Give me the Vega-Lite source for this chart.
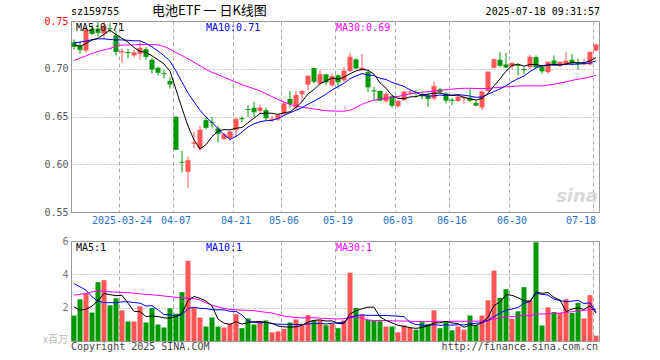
{
"$schema": "https://vega.github.io/schema/vega-lite/v6.json",
"background": "white",
"autosize": {"type": "pad"},
"padding": {"left": 42, "top": 4, "right": 60, "bottom": 8},
"spacing": 29,
"bounds": "flush",
"config": {
  "view": {"stroke": "#999999", "strokeWidth": 1},
  "font": "DejaVu Sans Mono",
  "axis": {"domain": false, "ticks": false, "title": null, "labelFont": "DejaVu Sans Mono", "labelFontSize": 10}
},
"datasets": {
"k": [
{"d":"2025-03-12","o":0.7274,"h":0.7306,"l":0.7201,"c":0.7233,"v":1.53,"m5":0.7250,"m10":0.7275,"m30":0.7087,"vm5":2.05,"vm10":3.45,"vm30":2.75},
{"d":"2025-03-13","o":0.7243,"h":0.7288,"l":0.7156,"c":0.7200,"v":2.50,"m5":0.7235,"m10":0.7278,"m30":0.7111,"vm5":1.85,"vm10":3.25,"vm30":2.80},
{"d":"2025-03-14","o":0.7190,"h":0.7435,"l":0.7170,"c":0.7405,"v":2.85,"m5":0.7265,"m10":0.7290,"m30":0.7135,"vm5":1.90,"vm10":3.05,"vm30":2.85},
{"d":"2025-03-17","o":0.7420,"h":0.7460,"l":0.7350,"c":0.7370,"v":1.71,"m5":0.7300,"m10":0.7305,"m30":0.7160,"vm5":2.10,"vm10":2.65,"vm30":2.95},
{"d":"2025-03-18","o":0.7420,"h":0.7490,"l":0.7340,"c":0.7380,"v":3.53,"m5":0.7319,"m10":0.7313,"m30":0.7181,"vm5":2.42,"vm10":2.40,"vm30":3.00},
{"d":"2025-03-19","o":0.7370,"h":0.7500,"l":0.7310,"c":0.7440,"v":3.65,"m5":0.7360,"m10":0.7313,"m30":0.7198,"vm5":2.85,"vm10":2.30,"vm30":3.00},
{"d":"2025-03-20","o":0.7425,"h":0.7480,"l":0.7380,"c":0.7420,"v":2.14,"m5":0.7404,"m10":0.7306,"m30":0.7212,"vm5":2.78,"vm10":2.30,"vm30":2.95},
{"d":"2025-03-21","o":0.7350,"h":0.7400,"l":0.7140,"c":0.7180,"v":2.56,"m5":0.7358,"m10":0.7302,"m30":0.7240,"vm5":2.72,"vm10":2.30,"vm30":2.93},
{"d":"2025-03-24","o":0.7170,"h":0.7210,"l":0.7060,"c":0.7180,"v":1.84,"m5":0.7320,"m10":0.7302,"m30":0.7247,"vm5":2.74,"vm10":2.35,"vm30":2.92},
{"d":"2025-03-25","o":0.7175,"h":0.7208,"l":0.7108,"c":0.7168,"v":1.17,"m5":0.7278,"m10":0.7298,"m30":0.7250,"vm5":2.27,"vm10":2.35,"vm30":2.90},
{"d":"2025-03-26","o":0.7140,"h":0.7200,"l":0.7120,"c":0.7167,"v":1.17,"m5":0.7223,"m10":0.7292,"m30":0.7250,"vm5":1.78,"vm10":2.31,"vm30":2.87},
{"d":"2025-03-27","o":0.7156,"h":0.7290,"l":0.7094,"c":0.7215,"v":2.08,"m5":0.7182,"m10":0.7293,"m30":0.7253,"vm5":1.76,"vm10":2.27,"vm30":2.83},
{"d":"2025-03-28","o":0.7205,"h":0.7226,"l":0.7094,"c":0.7128,"v":1.11,"m5":0.7172,"m10":0.7265,"m30":0.7253,"vm5":1.47,"vm10":2.10,"vm30":2.80},
{"d":"2025-03-31","o":0.7094,"h":0.7115,"l":0.6948,"c":0.6997,"v":1.98,"m5":0.7135,"m10":0.7228,"m30":0.7253,"vm5":1.50,"vm10":2.12,"vm30":2.77},
{"d":"2025-04-01","o":0.7010,"h":0.7024,"l":0.6931,"c":0.6962,"v":0.99,"m5":0.7094,"m10":0.7186,"m30":0.7250,"vm5":1.47,"vm10":1.87,"vm30":2.74},
{"d":"2025-04-02","o":0.6953,"h":0.6990,"l":0.6899,"c":0.6948,"v":0.81,"m5":0.7050,"m10":0.7137,"m30":0.7233,"vm5":1.39,"vm10":1.59,"vm30":2.70},
{"d":"2025-04-03","o":0.6872,"h":0.6913,"l":0.6792,"c":0.6840,"v":1.96,"m5":0.6975,"m10":0.7079,"m30":0.7205,"vm5":1.37,"vm10":1.57,"vm30":2.66},
{"d":"2025-04-07","o":0.6497,"h":0.6503,"l":0.6150,"c":0.6156,"v":1.64,"m5":0.6781,"m10":0.6976,"m30":0.7170,"vm5":1.48,"vm10":1.48,"vm30":2.62},
{"d":"2025-04-08","o":0.6025,"h":0.6139,"l":0.5913,"c":0.6020,"v":2.93,"m5":0.6585,"m10":0.6860,"m30":0.7139,"vm5":1.67,"vm10":1.58,"vm30":2.58},
{"d":"2025-04-09","o":0.5920,"h":0.6080,"l":0.5750,"c":0.6038,"v":4.81,"m5":0.6400,"m10":0.6747,"m30":0.7104,"vm5":2.43,"vm10":1.95,"vm30":2.57},
{"d":"2025-04-10","o":0.6215,"h":0.6340,"l":0.6167,"c":0.6225,"v":2.00,"m5":0.6256,"m10":0.6653,"m30":0.7069,"vm5":2.67,"vm10":2.03,"vm30":2.55},
{"d":"2025-04-11","o":0.6167,"h":0.6400,"l":0.6142,"c":0.6358,"v":1.41,"m5":0.6159,"m10":0.6567,"m30":0.7031,"vm5":2.56,"vm10":1.96,"vm30":2.45},
{"d":"2025-04-14","o":0.6462,"h":0.6503,"l":0.6365,"c":0.6385,"v":0.87,"m5":0.6205,"m10":0.6493,"m30":0.6993,"vm5":2.40,"vm10":1.94,"vm30":2.30},
{"d":"2025-04-15","o":0.6443,"h":0.6497,"l":0.6375,"c":0.6438,"v":1.41,"m5":0.6289,"m10":0.6437,"m30":0.6962,"vm5":2.10,"vm10":1.88,"vm30":2.15},
{"d":"2025-04-16","o":0.6375,"h":0.6400,"l":0.6226,"c":0.6323,"v":0.87,"m5":0.6346,"m10":0.6373,"m30":0.6938,"vm5":1.31,"vm10":1.87,"vm30":2.05},
{"d":"2025-04-17","o":0.6264,"h":0.6323,"l":0.6254,"c":0.6313,"v":0.81,"m5":0.6363,"m10":0.6310,"m30":0.6910,"vm5":1.07,"vm10":1.87,"vm30":1.95},
{"d":"2025-04-18","o":0.6271,"h":0.6350,"l":0.6247,"c":0.6340,"v":1.03,"m5":0.6360,"m10":0.6260,"m30":0.6885,"vm5":1.00,"vm10":1.78,"vm30":1.90},
{"d":"2025-04-21","o":0.6358,"h":0.6486,"l":0.6295,"c":0.6472,"v":1.61,"m5":0.6377,"m10":0.6291,"m30":0.6858,"vm5":1.15,"vm10":1.78,"vm30":1.87},
{"d":"2025-04-22","o":0.6481,"h":0.6503,"l":0.6444,"c":0.6476,"v":0.77,"m5":0.6385,"m10":0.6337,"m30":0.6833,"vm5":1.02,"vm10":1.56,"vm30":1.85},
{"d":"2025-04-23","o":0.6578,"h":0.6618,"l":0.6497,"c":0.6573,"v":1.35,"m5":0.6435,"m10":0.6390,"m30":0.6812,"vm5":1.11,"vm10":1.21,"vm30":1.84},
{"d":"2025-04-24","o":0.6590,"h":0.6653,"l":0.6497,"c":0.6549,"v":0.99,"m5":0.6482,"m10":0.6423,"m30":0.6789,"vm5":1.15,"vm10":1.11,"vm30":1.82},
{"d":"2025-04-25","o":0.6559,"h":0.6625,"l":0.6535,"c":0.6590,"v":1.19,"m5":0.6532,"m10":0.6446,"m30":0.6769,"vm5":1.18,"vm10":1.09,"vm30":1.77},
{"d":"2025-04-28","o":0.6566,"h":0.6594,"l":0.6462,"c":0.6486,"v":1.23,"m5":0.6535,"m10":0.6456,"m30":0.6738,"vm5":1.11,"vm10":1.13,"vm30":1.72},
{"d":"2025-04-29","o":0.6467,"h":0.6507,"l":0.6444,"c":0.6472,"v":0.52,"m5":0.6534,"m10":0.6459,"m30":0.6708,"vm5":1.06,"vm10":1.04,"vm30":1.68},
{"d":"2025-04-30","o":0.6469,"h":0.6524,"l":0.6455,"c":0.6514,"v":0.58,"m5":0.6522,"m10":0.6479,"m30":0.6679,"vm5":0.90,"vm10":1.01,"vm30":1.58},
{"d":"2025-05-06","o":0.6524,"h":0.6653,"l":0.6514,"c":0.6635,"v":0.73,"m5":0.6539,"m10":0.6511,"m30":0.6652,"vm5":0.85,"vm10":1.00,"vm30":1.49},
{"d":"2025-05-07","o":0.6684,"h":0.6767,"l":0.6594,"c":0.6635,"v":1.11,"m5":0.6548,"m10":0.6540,"m30":0.6626,"vm5":0.83,"vm10":1.01,"vm30":1.45},
{"d":"2025-05-08","o":0.6594,"h":0.6767,"l":0.6566,"c":0.6722,"v":1.29,"m5":0.6596,"m10":0.6565,"m30":0.6611,"vm5":0.85,"vm10":0.98,"vm30":1.41},
{"d":"2025-05-09","o":0.6733,"h":0.6774,"l":0.6653,"c":0.6764,"v":1.00,"m5":0.6654,"m10":0.6594,"m30":0.6597,"vm5":0.94,"vm10":1.00,"vm30":1.38},
{"d":"2025-05-12","o":0.6833,"h":0.6924,"l":0.6774,"c":0.6924,"v":1.55,"m5":0.6736,"m10":0.6629,"m30":0.6589,"vm5":1.14,"vm10":1.02,"vm30":1.39},
{"d":"2025-05-13","o":0.7007,"h":0.7007,"l":0.6844,"c":0.6868,"v":1.25,"m5":0.6783,"m10":0.6661,"m30":0.6579,"vm5":1.24,"vm10":1.05,"vm30":1.40},
{"d":"2025-05-14","o":0.6844,"h":0.6983,"l":0.6826,"c":0.6941,"v":1.25,"m5":0.6844,"m10":0.6696,"m30":0.6570,"vm5":1.27,"vm10":1.05,"vm30":1.37},
{"d":"2025-05-15","o":0.6941,"h":0.6948,"l":0.6826,"c":0.6861,"v":0.95,"m5":0.6872,"m10":0.6734,"m30":0.6561,"vm5":1.20,"vm10":1.02,"vm30":1.36},
{"d":"2025-05-16","o":0.6826,"h":0.6948,"l":0.6809,"c":0.6920,"v":1.03,"m5":0.6903,"m10":0.6778,"m30":0.6558,"vm5":1.21,"vm10":1.07,"vm30":1.33},
{"d":"2025-05-19","o":0.6931,"h":0.6941,"l":0.6792,"c":0.6861,"v":0.77,"m5":0.6890,"m10":0.6813,"m30":0.6555,"vm5":1.05,"vm10":1.09,"vm30":1.32},
{"d":"2025-05-20","o":0.6878,"h":0.7017,"l":0.6861,"c":0.6976,"v":1.23,"m5":0.6912,"m10":0.6847,"m30":0.6556,"vm5":1.05,"vm10":1.14,"vm30":1.34},
{"d":"2025-05-21","o":0.6976,"h":0.7167,"l":0.6965,"c":0.7122,"v":4.10,"m5":0.6948,"m10":0.6896,"m30":0.6565,"vm5":1.62,"vm10":1.44,"vm30":1.41},
{"d":"2025-05-22","o":0.7098,"h":0.7111,"l":0.7000,"c":0.7007,"v":1.98,"m5":0.6977,"m10":0.6924,"m30":0.6594,"vm5":1.82,"vm10":1.51,"vm30":1.42},
{"d":"2025-05-23","o":0.6983,"h":0.7156,"l":0.6983,"c":0.7007,"v":1.59,"m5":0.6995,"m10":0.6949,"m30":0.6627,"vm5":1.93,"vm10":1.57,"vm30":1.38},
{"d":"2025-05-26","o":0.6965,"h":0.6976,"l":0.6757,"c":0.6809,"v":1.27,"m5":0.6984,"m10":0.6937,"m30":0.6652,"vm5":2.03,"vm10":1.54,"vm30":1.26},
{"d":"2025-05-27","o":0.6772,"h":0.6809,"l":0.6670,"c":0.6767,"v":1.23,"m5":0.6942,"m10":0.6927,"m30":0.6670,"vm5":2.03,"vm10":1.54,"vm30":1.23},
{"d":"2025-05-28","o":0.6767,"h":0.6774,"l":0.6663,"c":0.6670,"v":1.19,"m5":0.6852,"m10":0.6900,"m30":0.6681,"vm5":1.45,"vm10":1.53,"vm30":1.23},
{"d":"2025-05-29","o":0.6660,"h":0.6757,"l":0.6642,"c":0.6733,"v":0.87,"m5":0.6797,"m10":0.6887,"m30":0.6692,"vm5":1.23,"vm10":1.53,"vm30":1.23},
{"d":"2025-05-30","o":0.6712,"h":0.6722,"l":0.6594,"c":0.6618,"v":0.87,"m5":0.6719,"m10":0.6857,"m30":0.6698,"vm5":1.09,"vm10":1.51,"vm30":1.21},
{"d":"2025-06-03","o":0.6608,"h":0.6670,"l":0.6594,"c":0.6660,"v":0.52,"m5":0.6690,"m10":0.6837,"m30":0.6710,"vm5":0.94,"vm10":1.49,"vm30":1.20},
{"d":"2025-06-04","o":0.6670,"h":0.6767,"l":0.6663,"c":0.6757,"v":0.93,"m5":0.6688,"m10":0.6815,"m30":0.6724,"vm5":0.88,"vm10":1.46,"vm30":1.20},
{"d":"2025-06-05","o":0.6752,"h":0.6774,"l":0.6722,"c":0.6757,"v":0.79,"m5":0.6705,"m10":0.6779,"m30":0.6738,"vm5":0.80,"vm10":1.12,"vm30":1.19},
{"d":"2025-06-06","o":0.6755,"h":0.6774,"l":0.6698,"c":0.6750,"v":0.68,"m5":0.6708,"m10":0.6753,"m30":0.6747,"vm5":0.76,"vm10":0.99,"vm30":1.16},
{"d":"2025-06-09","o":0.6720,"h":0.6760,"l":0.6680,"c":0.6715,"v":1.13,"m5":0.6728,"m10":0.6724,"m30":0.6755,"vm5":0.81,"vm10":0.95,"vm30":1.17},
{"d":"2025-06-10","o":0.6722,"h":0.6740,"l":0.6601,"c":0.6688,"v":1.03,"m5":0.6733,"m10":0.6712,"m30":0.6759,"vm5":0.91,"vm10":0.92,"vm30":1.16},
{"d":"2025-06-11","o":0.6688,"h":0.6868,"l":0.6670,"c":0.6816,"v":1.84,"m5":0.6745,"m10":0.6716,"m30":0.6768,"vm5":1.09,"vm10":0.99,"vm30":1.19},
{"d":"2025-06-12","o":0.6785,"h":0.6799,"l":0.6747,"c":0.6757,"v":0.77,"m5":0.6745,"m10":0.6725,"m30":0.6774,"vm5":1.09,"vm10":0.94,"vm30":1.18},
{"d":"2025-06-13","o":0.6740,"h":0.6757,"l":0.6635,"c":0.6670,"v":1.13,"m5":0.6729,"m10":0.6719,"m30":0.6780,"vm5":1.18,"vm10":0.97,"vm30":1.17},
{"d":"2025-06-16","o":0.6675,"h":0.6694,"l":0.6618,"c":0.6670,"v":0.64,"m5":0.6720,"m10":0.6724,"m30":0.6786,"vm5":1.08,"vm10":0.95,"vm30":1.18},
{"d":"2025-06-17","o":0.6663,"h":0.6712,"l":0.6653,"c":0.6705,"v":0.87,"m5":0.6724,"m10":0.6729,"m30":0.6793,"vm5":1.05,"vm10":0.98,"vm30":1.19},
{"d":"2025-06-18","o":0.6693,"h":0.6722,"l":0.6635,"c":0.6698,"v":0.68,"m5":0.6700,"m10":0.6723,"m30":0.6795,"vm5":0.82,"vm10":0.96,"vm30":1.18},
{"d":"2025-06-19","o":0.6698,"h":0.6795,"l":0.6653,"c":0.6670,"v":1.53,"m5":0.6683,"m10":0.6714,"m30":0.6796,"vm5":0.97,"vm10":1.03,"vm30":1.20},
{"d":"2025-06-20","o":0.6642,"h":0.6670,"l":0.6608,"c":0.6618,"v":0.93,"m5":0.6672,"m10":0.6701,"m30":0.6793,"vm5":0.93,"vm10":1.06,"vm30":1.19},
{"d":"2025-06-23","o":0.6594,"h":0.6774,"l":0.6566,"c":0.6757,"v":1.53,"m5":0.6690,"m10":0.6705,"m30":0.6792,"vm5":1.11,"vm10":1.10,"vm30":1.20},
{"d":"2025-06-24","o":0.6767,"h":0.6976,"l":0.6757,"c":0.6965,"v":2.44,"m5":0.6742,"m10":0.6733,"m30":0.6794,"vm5":1.42,"vm10":1.24,"vm30":1.23},
{"d":"2025-06-25","o":0.7010,"h":0.7104,"l":0.7000,"c":0.7097,"v":4.22,"m5":0.6821,"m10":0.6761,"m30":0.6801,"vm5":2.13,"vm10":1.47,"vm30":1.33},
{"d":"2025-06-26","o":0.7094,"h":0.7174,"l":0.7017,"c":0.7035,"v":2.58,"m5":0.6894,"m10":0.6789,"m30":0.6805,"vm5":2.34,"vm10":1.66,"vm30":1.38},
{"d":"2025-06-27","o":0.7045,"h":0.7167,"l":0.7010,"c":0.7017,"v":3.11,"m5":0.6974,"m10":0.6823,"m30":0.6810,"vm5":2.78,"vm10":1.85,"vm30":1.45},
{"d":"2025-06-30","o":0.7024,"h":0.7059,"l":0.7000,"c":0.7059,"v":1.33,"m5":0.7035,"m10":0.6862,"m30":0.6814,"vm5":2.74,"vm10":1.92,"vm30":1.46},
{"d":"2025-07-01","o":0.7040,"h":0.7052,"l":0.6934,"c":0.7035,"v":1.78,"m5":0.7049,"m10":0.6895,"m30":0.6820,"vm5":2.60,"vm10":2.01,"vm30":1.49},
{"d":"2025-07-02","o":0.6995,"h":0.7017,"l":0.6941,"c":0.6990,"v":3.23,"m5":0.7027,"m10":0.6924,"m30":0.6821,"vm5":2.41,"vm10":2.27,"vm30":1.56},
{"d":"2025-07-03","o":0.7017,"h":0.7146,"l":0.7000,"c":0.7122,"v":2.44,"m5":0.7045,"m10":0.6970,"m30":0.6821,"vm5":2.38,"vm10":2.36,"vm30":1.50},
{"d":"2025-07-04","o":0.7122,"h":0.7139,"l":0.7010,"c":0.7017,"v":5.92,"m5":0.7045,"m10":0.7009,"m30":0.6821,"vm5":2.94,"vm10":2.86,"vm30":1.64},
{"d":"2025-07-07","o":0.7017,"h":0.7035,"l":0.6948,"c":0.6976,"v":0.93,"m5":0.7028,"m10":0.7031,"m30":0.6820,"vm5":2.86,"vm10":2.80,"vm30":1.61},
{"d":"2025-07-08","o":0.6965,"h":0.7070,"l":0.6948,"c":0.7070,"v":2.02,"m5":0.7035,"m10":0.7042,"m30":0.6829,"vm5":2.91,"vm10":2.76,"vm30":1.64},
{"d":"2025-07-09","o":0.7087,"h":0.7139,"l":0.7035,"c":0.7052,"v":1.74,"m5":0.7047,"m10":0.7037,"m30":0.6838,"vm5":2.61,"vm10":2.51,"vm30":1.66},
{"d":"2025-07-10","o":0.7035,"h":0.7070,"l":0.7017,"c":0.7070,"v":1.68,"m5":0.7037,"m10":0.7041,"m30":0.6851,"vm5":2.46,"vm10":2.42,"vm30":1.67},
{"d":"2025-07-11","o":0.7045,"h":0.7174,"l":0.7035,"c":0.7080,"v":2.50,"m5":0.7050,"m10":0.7047,"m30":0.6863,"vm5":1.77,"vm10":2.36,"vm30":1.73},
{"d":"2025-07-14","o":0.7094,"h":0.7156,"l":0.7035,"c":0.7059,"v":1.68,"m5":0.7066,"m10":0.7047,"m30":0.6878,"vm5":1.92,"vm10":2.39,"vm30":1.75},
{"d":"2025-07-15","o":0.7057,"h":0.7104,"l":0.6990,"c":0.7052,"v":2.28,"m5":0.7063,"m10":0.7049,"m30":0.6891,"vm5":1.98,"vm10":2.44,"vm30":1.81},
{"d":"2025-07-16","o":0.7047,"h":0.7104,"l":0.7035,"c":0.7052,"v":1.35,"m5":0.7063,"m10":0.7055,"m30":0.6901,"vm5":1.90,"vm10":2.25,"vm30":1.83},
{"d":"2025-07-17","o":0.7045,"h":0.7174,"l":0.7035,"c":0.7174,"v":2.75,"m5":0.7083,"m10":0.7060,"m30":0.6915,"vm5":2.11,"vm10":2.29,"vm30":1.89},
{"d":"2025-07-18","o":0.7191,"h":0.7260,"l":0.7180,"c":0.7250,"v":0.32,"m5":0.7117,"m10":0.7084,"m30":0.6931,"vm5":1.68,"vm10":1.73,"vm30":1.88}
],
"one": [{"n": 1}]
},
"vconcat": [
{
  "width": 528, "height": 191,
  "data": {"name": "k"},
  "encoding": {
    "x": {"field": "d", "type": "ordinal",
      "scale": {"type": "band", "paddingInner": 0, "paddingOuter": 0},
      "axis": {"values": ["2025-03-24","2025-04-07","2025-04-21","2025-05-06","2025-05-19","2025-06-03","2025-06-16","2025-06-30","2025-07-18"],
        "bandPosition": 0, "grid": true, "gridDash": [4, 3], "gridColor": "#aaaaaa", "gridWidth": 1,
        "labelExpr": "datum.value == '2025-03-24' ? datum.value : substring(datum.value, 5)",
        "labelColor": "#1f6fcf", "labelPadding": 3, "labelAngle": 0, "labelOverlap": false, "labelFlush": false,
        "labelAlign": {"condition": {"test": "datum.value == '2025-07-18'", "value": "right"}, "value": "center"}}}
  },
  "layer": [
    {"mark": {"type": "rule", "strokeWidth": 1},
     "encoding": {
       "y": {"field": "l", "type": "quantitative", "scale": {"domain": [0.55, 0.75], "zero": false, "nice": false},
         "axis": {"values": [0.55, 0.6, 0.65, 0.7, 0.75], "format": ".2f", "grid": true, "gridDash": [1, 2], "gridColor": "#999999", "labelPadding": 3,
           "labelColor": {"condition": {"test": "datum.value >= 0.749", "value": "#ff0000"}, "value": "#555555"}}},
       "y2": {"field": "h"},
       "color": {"condition": {"test": "datum.c >= datum.o", "value": "#ff5555"}, "value": "#009900"}}},
    {"mark": {"type": "bar", "size": 5},
     "encoding": {"y": {"field": "o", "type": "quantitative"}, "y2": {"field": "c"},
       "color": {"condition": {"test": "datum.c >= datum.o", "value": "#ff5555"}, "value": "#009900"}}},
    {"mark": {"type": "tick", "orient": "horizontal", "size": 5, "thickness": 1},
     "encoding": {"y": {"field": "c", "type": "quantitative"},
       "color": {"condition": {"test": "datum.c >= datum.o", "value": "#ff5555"}, "value": "#009900"}}},
    {"mark": {"type": "line", "strokeWidth": 1, "color": "#ff00ff"}, "encoding": {"y": {"field": "m30", "type": "quantitative"}}},
    {"mark": {"type": "line", "strokeWidth": 1, "color": "#0000ff"}, "encoding": {"y": {"field": "m10", "type": "quantitative"}}},
    {"mark": {"type": "line", "strokeWidth": 1, "color": "#000000"}, "encoding": {"y": {"field": "m5", "type": "quantitative"}}},
    {"data": {"name": "one"}, "mark": {"type": "text", "text": "MA5:0.71", "align": "left", "baseline": "top", "dx": 2, "dy": 2, "fontSize": 10, "color": "#000000"},
     "encoding": {"x": {"datum": "2025-03-12"}, "y": {"datum": 0.75}}},
    {"data": {"name": "one"}, "mark": {"type": "text", "text": "MA10:0.71", "align": "left", "baseline": "top", "dx": 0, "dy": 2, "fontSize": 10, "color": "#0000ff"},
     "encoding": {"x": {"datum": "2025-04-14"}, "y": {"datum": 0.75}}},
    {"data": {"name": "one"}, "mark": {"type": "text", "text": "MA30:0.69", "align": "left", "baseline": "top", "dx": -2, "dy": 2, "fontSize": 10, "color": "#ff00ff"},
     "encoding": {"x": {"datum": "2025-05-19"}, "y": {"datum": 0.75}}},
    {"data": {"name": "one"}, "mark": {"type": "text", "text": "sz159755", "align": "left", "baseline": "bottom", "dx": -3, "dy": -4, "fontSize": 10, "color": "#000000"},
     "encoding": {"x": {"datum": "2025-03-12"}, "y": {"datum": 0.75}}},
    {"data": {"name": "one"}, "mark": {"type": "text", "text": "电池ETF 一 日K线图", "font": "Noto Sans CJK SC", "align": "left", "baseline": "bottom", "dx": 0, "dy": -3, "fontSize": 13, "color": "#000000"},
     "encoding": {"x": {"datum": "2025-03-31"}, "y": {"datum": 0.75}}},
    {"data": {"name": "one"}, "mark": {"type": "text", "text": "2025-07-18 09:31:57", "align": "right", "baseline": "bottom", "dx": 4, "dy": -4, "fontSize": 10, "color": "#000000"},
     "encoding": {"x": {"datum": "2025-07-18"}, "y": {"datum": 0.75}}},
    {"data": {"name": "one"}, "mark": {"type": "text", "text": "sina", "font": "DejaVu Sans", "fontStyle": "italic", "fontWeight": "bold", "align": "right", "baseline": "bottom", "dx": 2, "dy": -6, "fontSize": 18, "color": "#d8d8d8"},
     "encoding": {"x": {"datum": "2025-07-18"}, "y": {"datum": 0.55}}}
  ]
},
{
  "width": 528, "height": 100,
  "data": {"name": "k"},
  "encoding": {
    "x": {"field": "d", "type": "ordinal",
      "scale": {"type": "band", "paddingInner": 0, "paddingOuter": 0},
      "axis": {"values": ["2025-03-24","2025-04-07","2025-04-21","2025-05-06","2025-05-19","2025-06-03","2025-06-16","2025-06-30","2025-07-18"],
        "bandPosition": 0, "grid": true, "gridDash": [4, 3], "gridColor": "#aaaaaa", "labels": false}}
  },
  "layer": [
    {"mark": {"type": "bar", "size": 5},
     "encoding": {
       "y": {"field": "v", "type": "quantitative", "scale": {"domain": [0, 6], "nice": false},
         "axis": {"values": [2, 4, 6], "grid": true, "gridDash": [1, 2], "gridColor": "#999999", "labelPadding": 3, "labelColor": "#777777"}},
       "color": {"condition": {"test": "datum.c >= datum.o", "value": "#ff5555"}, "value": "#009900"}}},
    {"mark": {"type": "line", "strokeWidth": 1, "color": "#ff00ff"}, "encoding": {"y": {"field": "vm30", "type": "quantitative"}}},
    {"mark": {"type": "line", "strokeWidth": 1, "color": "#0000ff"}, "encoding": {"y": {"field": "vm10", "type": "quantitative"}}},
    {"mark": {"type": "line", "strokeWidth": 1, "color": "#000000"}, "encoding": {"y": {"field": "vm5", "type": "quantitative"}}},
    {"data": {"name": "one"}, "mark": {"type": "text", "text": "MA5:1", "align": "left", "baseline": "top", "dx": 2, "dy": 2, "fontSize": 10, "color": "#000000"},
     "encoding": {"x": {"datum": "2025-03-12"}, "y": {"datum": 6}}},
    {"data": {"name": "one"}, "mark": {"type": "text", "text": "MA10:1", "align": "left", "baseline": "top", "dx": 0, "dy": 2, "fontSize": 10, "color": "#0000ff"},
     "encoding": {"x": {"datum": "2025-04-14"}, "y": {"datum": 6}}},
    {"data": {"name": "one"}, "mark": {"type": "text", "text": "MA30:1", "align": "left", "baseline": "top", "dx": -2, "dy": 2, "fontSize": 10, "color": "#ff00ff"},
     "encoding": {"x": {"datum": "2025-05-19"}, "y": {"datum": 6}}},
    {"data": {"name": "one"}, "mark": {"type": "text", "text": "Copyright 2025 SINA.COM", "align": "left", "baseline": "top", "dx": -3, "dy": 1, "fontSize": 10, "color": "#444444"},
     "encoding": {"x": {"datum": "2025-03-12"}, "y": {"datum": 0}}},
    {"data": {"name": "one"}, "mark": {"type": "text", "text": "http://finance.sina.com.cn", "align": "right", "baseline": "top", "dx": 2, "dy": 1, "fontSize": 10, "color": "#444444"},
     "encoding": {"x": {"datum": "2025-07-18"}, "y": {"datum": 0}}},
    {"data": {"name": "one"}, "mark": {"type": "text", "text": "x百万", "font": "Noto Sans CJK SC", "align": "right", "baseline": "middle", "dx": -6, "dy": -1, "fontSize": 10, "color": "#bbbbbb"},
     "encoding": {"x": {"datum": "2025-03-12"}, "y": {"datum": 0}}}
  ]
}
]
}
